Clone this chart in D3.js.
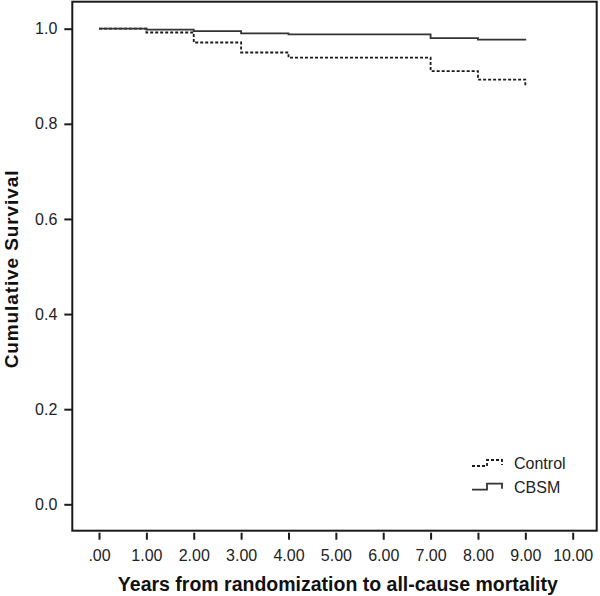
<!DOCTYPE html>
<html>
<head>
<meta charset="utf-8">
<script src="https://cdn.jsdelivr.net/npm/d3@7"></script>
<style>
  body { margin: 0; background: #fff; }
  svg { font-family: "Liberation Sans", Arial, sans-serif; }
</style>
</head>
<body>
<script>
// step times (years) and survival estimates
var times = [0, 1, 2, 3, 4, 5, 6, 7, 8, 9];
var cbsm = [1.000, 0.998, 0.995, 0.990, 0.988, 0.988, 0.988, 0.980, 0.977, 0.975];
var control = [1.000, 0.992, 0.971, 0.950, 0.939, 0.939, 0.939, 0.911, 0.893, 0.878];
var seriesNames = ["Control", "CBSM"];
var xTicks = [0, 1, 2, 3, 4, 5, 6, 7, 8, 9, 10];
var xTickLabels = [".00", "1.00", "2.00", "3.00", "4.00", "5.00", "6.00", "7.00", "8.00", "9.00", "10.00"];
var yTicks = [0, 0.2, 0.4, 0.6, 0.8, 1.0];
var yTickLabels = ["0.0", "0.2", "0.4", "0.6", "0.8", "1.0"];

var width = 600, height = 596;
var frame = {left: 72.3, right: 596.7, top: 1.7, bottom: 530.7};

var svg = d3.select("body").append("svg")
    .attr("width", width)
    .attr("height", height);

var x_scale = d3.scaleLinear().domain([0, 10]).range([99, 572.7]);
var y_scale = d3.scaleLinear().domain([0, 1]).range([504.3, 28.7]);

// frame
svg.append("rect")
    .attr("x", frame.left)
    .attr("y", frame.top)
    .attr("width", frame.right - frame.left)
    .attr("height", frame.bottom - frame.top)
    .style("fill", "none")
    .style("stroke", "#1a1a1a")
    .style("stroke-width", 2);

// y-axis
var y_axis = d3.axisLeft(y_scale)
    .tickValues(yTicks)
    .tickFormat(function(d, i) { return yTickLabels[i]; })
    .tickSize(8)
    .tickPadding(7);
var gy = svg.append("g")
    .attr("transform", "translate(" + frame.left + ",0)")
    .call(y_axis);
gy.select(".domain").remove();
gy.selectAll("line").style("stroke", "#1a1a1a").style("stroke-width", 2);
gy.selectAll("text")
    .attr("fill", "#222")
    .style("font-size", "16px")
    .style("font-family", "'Liberation Sans', Arial, sans-serif");

// x-axis, ticks sit just under the frame
var x_axis = d3.axisBottom(x_scale)
    .tickValues(xTicks)
    .tickFormat(function(d, i) { return xTickLabels[i]; })
    .tickSize(7);
var gx = svg.append("g")
    .attr("transform", "translate(0," + (frame.bottom + 2) + ")")
    .call(x_axis);
gx.select(".domain").remove();
gx.selectAll("line").style("stroke", "#1a1a1a").style("stroke-width", 2);
gx.selectAll("text")
    .attr("y", 28)
    .attr("dy", "0")
    .attr("fill", "#222")
    .style("font-size", "16px")
    .style("font-family", "'Liberation Sans', Arial, sans-serif");

// axis titles
svg.append("text")
    .attr("x", (99 + 572.7) / 2 + 2)
    .attr("y", 590.5)
    .attr("text-anchor", "middle")
    .style("font-size", "19.5px")
    .style("font-weight", "bold")
    .style("fill", "#111")
    .text("Years from randomization to all-cause mortality");

svg.append("text")
    .attr("transform", "rotate(-90)")
    .attr("x", -269)
    .attr("y", 17.5)
    .attr("text-anchor", "middle")
    .style("font-size", "19px")
    .style("font-weight", "bold")
    .style("letter-spacing", "0.9px")
    .style("fill", "#111")
    .text("Cumulative Survival");

// survival curves
var line = d3.line()
    .x(function(d) { return x_scale(d[0]); })
    .y(function(d) { return y_scale(d[1]); })
    .curve(d3.curveStepAfter);

var controlData = times.map(function(t, i) { return [t, control[i]]; });
var cbsmData = times.map(function(t, i) { return [t, cbsm[i]]; });

svg.append("path")
    .datum(controlData)
    .attr("d", line)
    .style("fill", "none")
    .style("stroke", "#1a1a1a")
    .style("stroke-width", 1.8)
    .style("stroke-dasharray", "3,2");

svg.append("path")
    .datum(cbsmData)
    .attr("d", line)
    .style("fill", "none")
    .style("stroke", "#333")
    .style("stroke-width", 1.8);

// legend
var legend = svg.selectAll(".legend")
    .data(seriesNames)
  .enter().append("g")
    .attr("class", "legend")
    .attr("transform", function(d, i) { return "translate(472," + (469 + i * 23.7) + ")"; });

legend.append("path")
    .attr("d", "M0,-3 H15 V-9 H30 V-4")
    .style("fill", "none")
    .style("stroke", function(d, i) { return i == 0 ? "#1a1a1a" : "#333"; })
    .style("stroke-width", 1.8)
    .style("stroke-dasharray", function(d, i) { return i == 0 ? "3,2" : null; });

legend.append("text")
    .attr("x", 42)
    .attr("y", 0)
    .style("font-size", "16px")
    .style("fill", "#222")
    .text(function(d) { return d; });
</script>
</body>
</html>
